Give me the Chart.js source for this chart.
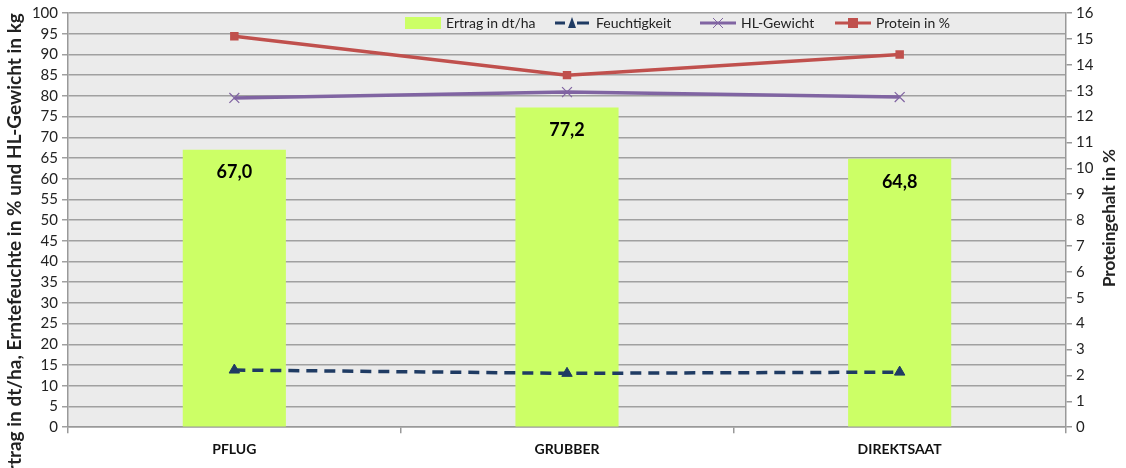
<!DOCTYPE html>
<html>
<head>
<meta charset="utf-8">
<script src="https://cdn.jsdelivr.net/npm/chart.js@4"></script>
<style>
  html, body { margin: 0; padding: 0; background: #ffffff; }
  #wrap { width: 1126px; height: 468px; position: relative; }
</style>
</head>
<body>
<div id="wrap"><canvas id="chart"></canvas></div>
<script>
const categories = ['PFLUG', 'GRUBBER', 'DIREKTSAAT'];
const ertrag = [67.0, 77.2, 64.8];
const feuchtigkeit = [13.8, 13.0, 13.3];
const hlGewicht = [79.5, 80.9, 79.7];
const protein = [15.1, 13.6, 14.4];

const FONT = 'Lato, "Open Sans", sans-serif';
const leftTitle = 'Ertrag in dt/ha, Erntefeuchte in % und HL-Gewicht in kg';
const rightTitle = 'Proteingehalt in %';

// grey plot background
const plotBg = {
  id: 'plotBg',
  beforeDraw(chart) {
    const a = chart.chartArea;
    const c = chart.ctx;
    c.save();
    c.fillStyle = '#ebebeb';
    c.fillRect(a.left, a.top, a.right - a.left, a.bottom - a.top);
    c.restore();
  }
};

// value labels inside the top of the bars
const barLabels = {
  id: 'barLabels',
  afterDatasetsDraw(chart) {
    const c = chart.ctx;
    const meta = chart.getDatasetMeta(0);
    c.save();
    c.font = 'bold 18px ' + FONT;
    c.fillStyle = '#000';
    c.textAlign = 'center';
    c.textBaseline = 'middle';
    meta.data.forEach((bar, i) => {
      c.fillText(ertrag[i].toFixed(1).replace('.', ','), bar.x, bar.y + 23);
    });
    c.restore();
  }
};

// axis titles, both read bottom to top
const axisTitles = {
  id: 'axisTitles',
  afterDraw(chart) {
    const c = chart.ctx;
    c.save();
    c.fillStyle = '#222';
    c.textAlign = 'center';
    c.textBaseline = 'middle';
    c.font = 'bold 19px ' + FONT;
    c.translate(15, 248);
    c.rotate(-Math.PI / 2);
    c.fillText(leftTitle, 0, 0);
    c.restore();

    c.save();
    c.fillStyle = '#222';
    c.textAlign = 'center';
    c.textBaseline = 'middle';
    c.font = 'bold 17px ' + FONT;
    c.translate(1110, 218);
    c.rotate(-Math.PI / 2);
    c.fillText(rightTitle, 0, 0);
    c.restore();
  }
};

// legend drawn over the plot, top right
const topLegend = {
  id: 'topLegend',
  afterDraw(chart) {
    const c = chart.ctx;
    const y = 23;
    const items = [
      { x: 405, text: 'Ertrag in dt/ha', kind: 'bar' },
      { x: 555, text: 'Feuchtigkeit', kind: 'feucht' },
      { x: 700, text: 'HL-Gewicht', kind: 'hl' },
      { x: 835, text: 'Protein in %', kind: 'protein' }
    ];
    c.save();
    c.font = '14px ' + FONT;
    c.textBaseline = 'middle';
    items.forEach(it => {
      if (it.kind === 'bar') {
        c.fillStyle = '#ccff66';
        c.fillRect(it.x, y - 6, 36, 12);
      } else if (it.kind === 'feucht') {
        c.strokeStyle = '#1f3b63';
        c.lineWidth = 3;
        c.beginPath();
        c.moveTo(it.x, y); c.lineTo(it.x + 10, y);
        c.moveTo(it.x + 22, y); c.lineTo(it.x + 34, y);
        c.stroke();
        c.fillStyle = '#1f3b63';
        c.beginPath();
        c.moveTo(it.x + 17, y - 6); c.lineTo(it.x + 21, y + 5); c.lineTo(it.x + 13, y + 5);
        c.closePath(); c.fill();
      } else if (it.kind === 'hl') {
        c.strokeStyle = '#8064a2';
        c.lineWidth = 3;
        c.beginPath(); c.moveTo(it.x, y); c.lineTo(it.x + 36, y); c.stroke();
        c.lineWidth = 1;
        c.beginPath();
        c.moveTo(it.x + 13, y - 5); c.lineTo(it.x + 23, y + 5);
        c.moveTo(it.x + 23, y - 5); c.lineTo(it.x + 13, y + 5);
        c.stroke();
      } else {
        c.strokeStyle = '#c0504d';
        c.lineWidth = 3;
        c.beginPath(); c.moveTo(it.x, y); c.lineTo(it.x + 36, y); c.stroke();
        c.fillStyle = '#c0504d';
        c.fillRect(it.x + 13, y - 5, 10, 10);
      }
      c.fillStyle = '#222';
      c.fillText(it.text, it.x + 41, y);
    });
    c.restore();
  }
};

const ctx = document.getElementById('chart').getContext('2d');

new Chart(ctx, {
  data: {
    labels: categories,
    datasets: [
      {
        type: 'bar',
        label: 'Ertrag in dt/ha',
        data: ertrag,
        backgroundColor: '#ccff66',
        yAxisID: 'y',
        barPercentage: 0.62,
        categoryPercentage: 0.5,
        order: 4
      },
      {
        type: 'line',
        label: 'Feuchtigkeit',
        data: feuchtigkeit,
        borderColor: '#1f3b63',
        backgroundColor: '#1f3b63',
        borderWidth: 3.5,
        borderDash: [11, 7],
        pointStyle: 'triangle',
        pointRadius: 6,
        pointBorderWidth: 1,
        tension: 0,
        yAxisID: 'y',
        order: 3
      },
      {
        type: 'line',
        label: 'HL-Gewicht',
        data: hlGewicht,
        borderColor: '#8064a2',
        backgroundColor: '#8064a2',
        borderWidth: 3.5,
        pointStyle: 'crossRot',
        pointRadius: 7,
        pointBorderWidth: 1.2,
        tension: 0,
        yAxisID: 'y',
        order: 2
      },
      {
        type: 'line',
        label: 'Protein in %',
        data: protein,
        borderColor: '#c0504d',
        backgroundColor: '#c0504d',
        borderWidth: 3.5,
        pointStyle: 'rect',
        pointRadius: 6,
        pointBorderWidth: 0,
        tension: 0,
        yAxisID: 'y1',
        order: 1
      }
    ]
  },
  options: {
    responsive: true,
    maintainAspectRatio: false,
    animation: false,
    layout: { padding: { top: 5, right: 24, bottom: 2, left: 26 } },
    scales: {
      x: {
        offset: true,
        grid: {
          offset: true,
          drawOnChartArea: false,
          tickLength: 6,
          color: '#999',
          lineWidth: 1.5
        },
        border: { color: '#999', width: 1.5 },
        ticks: {
          color: '#111',
          font: { family: FONT, size: 14, weight: 'bold' },
          padding: 8
        }
      },
      y: {
        position: 'left',
        min: 0,
        max: 100,
        afterFit(scale) { scale.width = 42; },
        ticks: {
          stepSize: 5,
          autoSkip: false,
          color: '#222',
          font: { family: FONT, size: 15 },
          padding: 4
        },
        grid: { color: '#a0a0a0', lineWidth: 1.5, tickLength: 6 },
        border: { color: '#999', width: 1.5 }
      },
      y1: {
        position: 'right',
        min: 0,
        max: 16,
        afterFit(scale) { scale.width = 36; },
        ticks: {
          stepSize: 1,
          autoSkip: false,
          color: '#222',
          font: { family: FONT, size: 15 },
          padding: 4
        },
        grid: { drawOnChartArea: false, color: '#999', lineWidth: 1.5, tickLength: 6 },
        border: { color: '#999', width: 1.5 }
      }
    },
    plugins: {
      legend: { display: false },
      tooltip: { enabled: false }
    }
  },
  plugins: [plotBg, barLabels, axisTitles, topLegend]
});
</script>
</body>
</html>
